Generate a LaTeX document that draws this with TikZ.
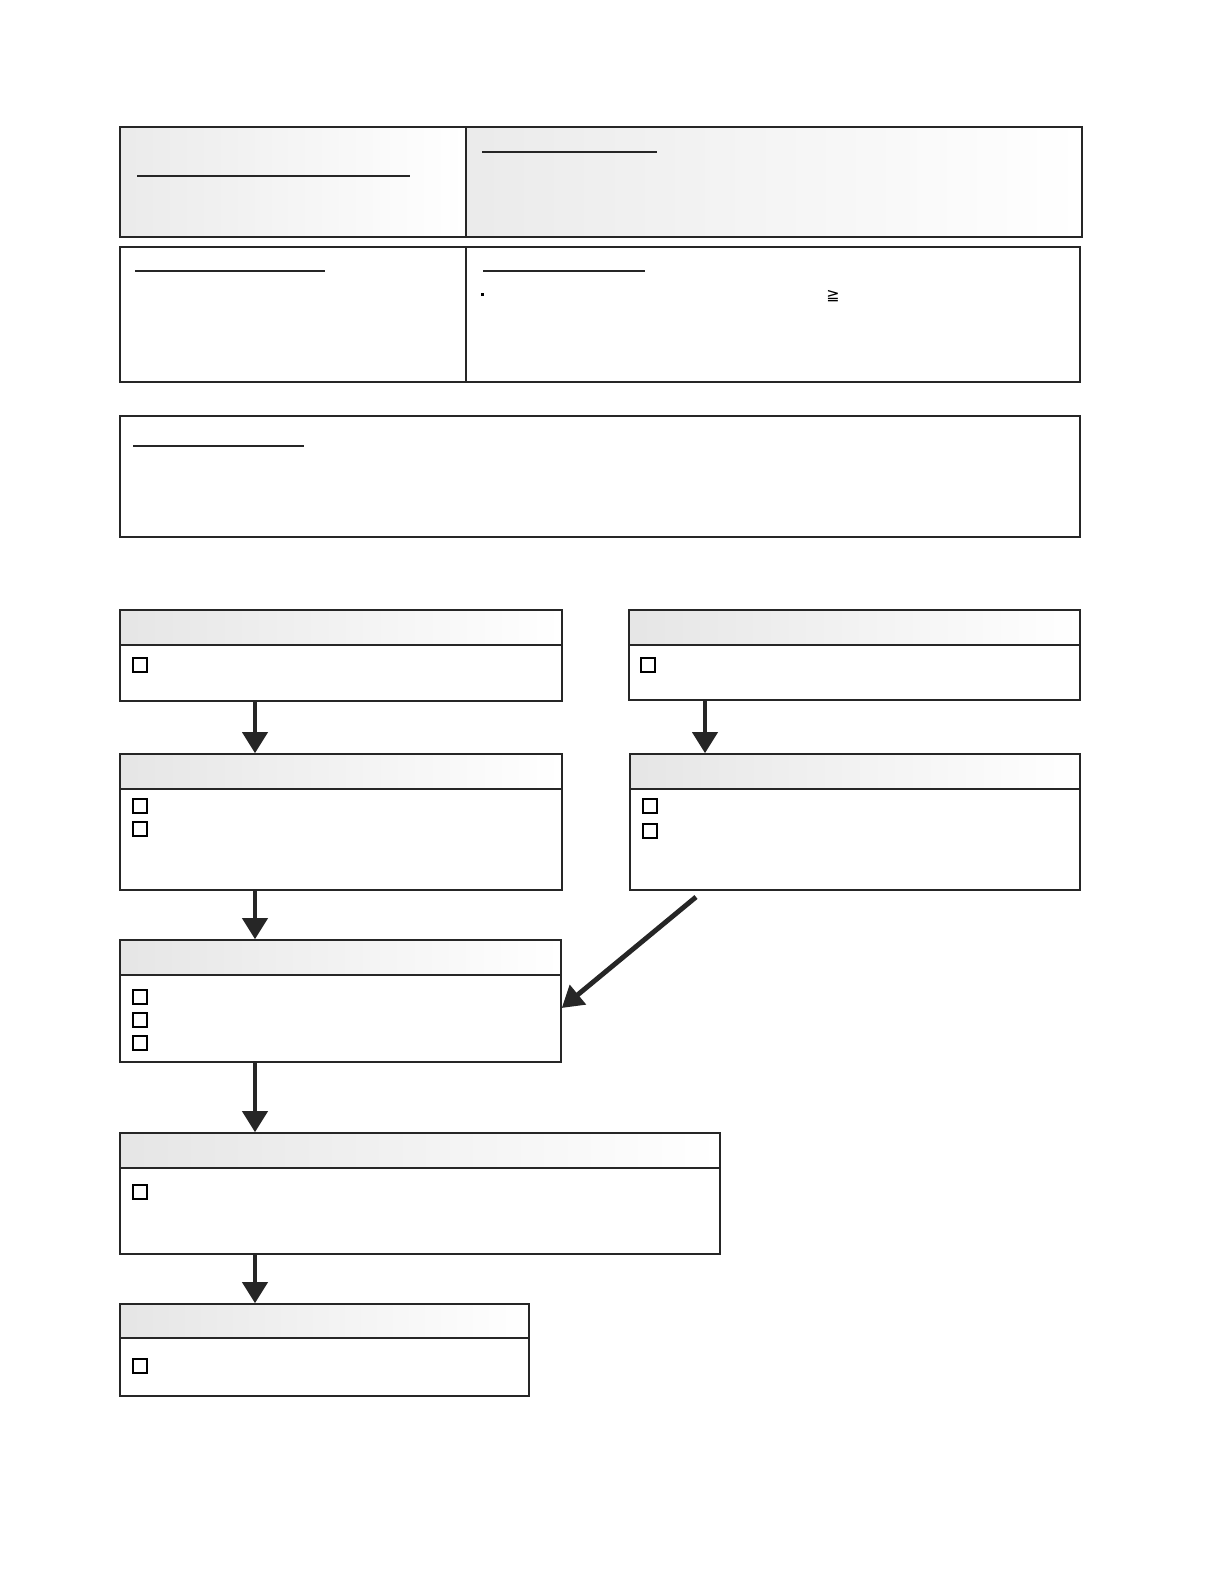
\documentclass[tikz,border=0pt]{standalone}
\usepackage{fontspec}
\newfontfamily\symfont{DejaVu Sans}
\usetikzlibrary{arrows.meta, positioning, fit}

\begin{document}
\begin{tikzpicture}[
  x=0.02cm, y=-0.02cm,
  box/.style={rectangle, draw=black!85, line width=0.8pt, inner sep=0pt},
  panel/.style={box, left color=black!8, right color=white},
  head/.style={left color=black!10, right color=white},
  tick/.style={rectangle, draw, line width=1pt, minimum size=8pt, inner sep=0pt},
  rule/.style={line width=1pt, black!85},
  flow/.style={-{Triangle[length=12pt, width=14pt]}, line width=2.8pt, black!85}
]
\useasboundingbox (0,0) rectangle (1224,1584);

% Info panels at the top
\node[panel, fit={(120,127)(466,237)}] (A) {};
\node[panel, fit={(466,127)(1082,237)}] (B) {};
\node[box, fit={(120,247)(466,382)}] (C) {};
\node[box, fit={(466,247)(1080,382)}] (D) {};
\node[box, fit={(120,416)(1080,537)}] (E) {};

\draw[rule, line width=1.5pt] (137,176) -- (410,176);
\draw[rule] (482,152) -- (657,152);
\draw[rule] (135,271) -- (325,271);
\draw[rule] (483,271) -- (645,271);
\draw[rule] (133,446) -- (304,446);
\fill (481,293) rectangle (484,296);
\node[font=\symfont\small] (geq) at (833,296) {≧};

% Flow boxes
\foreach \n/\xa/\ya/\xb/\yb/\yh in {F1/120/610/562/701/645, F2/629/610/1080/700/645,
    G1/120/754/562/890/789, G2/630/754/1080/890/789, H/120/940/561/1062/975,
    I/120/1133/720/1254/1168, J/120/1304/529/1396/1338} {
  \fill[head] (\xa,\ya) rectangle (\xb,\yh);
  \node[box, fit={(\xa,\ya)(\xb,\yb)}] (\n) {};
  \draw[black!85, line width=0.8pt] (\xa,\yh) -- (\xb,\yh);
}

% Check boxes
\foreach \cx/\cy [count=\i] in {140/665, 648/665, 140/806, 140/829, 650/806, 650/831,
    140/997, 140/1020, 140/1043, 140/1192, 140/1366} {
  \node[tick] (t\i) at (\cx,\cy) {};
}

% Arrows
\draw[flow] (F1.south -| 255,0) -- (G1.north -| 255,0);
\draw[flow] (F2.south -| 705,0) -- (G2.north -| 705,0);
\draw[flow] (G1.south -| 255,0) -- (H.north -| 255,0);
\draw[flow] (H.south -| 255,0) -- (I.north -| 255,0);
\draw[flow] (I.south -| 255,0) -- (J.north -| 255,0);
\coordinate (d0) at (696,897);
\draw[flow] (d0) -- (H.east |- 0,1008);

\end{tikzpicture}
\end{document}
